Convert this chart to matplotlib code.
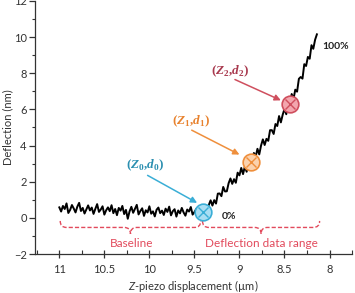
import numpy as np
import matplotlib
matplotlib.use('Agg')
import matplotlib.pyplot as plt
from matplotlib.path import Path
from matplotlib.patches import PathPatch
from matplotlib.ticker import MultipleLocator

plt.rcParams['font.family'] = ['Lato', 'DejaVu Sans']
plt.rcParams['mathtext.fontset'] = 'custom'
plt.rcParams['mathtext.rm'] = 'Lato'
plt.rcParams['mathtext.it'] = 'Lato:italic'
plt.rcParams['mathtext.bf'] = 'Liberation Serif:bold'
plt.rcParams['mathtext.bfit'] = 'Liberation Serif:italic:bold'

# Z-piezo sampling grid (um), 0.02 um steps from 11.0 down to 8.14
z = np.linspace(11.0, 8.14, 144)

# deflection (nm): baseline part then contact part
baseline = [0.58, 0.35, 0.66, 0.49, 0.80, 0.27, 0.44, 0.71, 0.52, 0.30,
            0.62, 0.83, 0.38, 0.55, 0.24, 0.47, 0.69, 0.41, 0.57, 0.22,
            0.50, 0.76, 0.33, 0.46, 0.64, 0.18, 0.42, 0.58, 0.37, 0.70,
            0.26, 0.49, 0.15, 0.55, 0.40, 0.66, 0.21, 0.44, -0.05, 0.36,
            0.61, 0.28, 0.50, 0.72, 0.19, 0.38, 0.53, 0.11, 0.42, 0.30,
            0.64, 0.23, 0.36, 0.08, 0.45, 0.57, 0.26, 0.40, 0.16, 0.51,
            0.33, 0.62, 0.14, 0.37, 0.48, 0.07, 0.41, 0.25, 0.55, 0.30,
            0.12, 0.46, 0.35, 0.60, 0.18, 0.32, 0.49, 0.10, 0.38, 0.24,
            0.30]
contact = [0.55, 0.31, 0.72, 0.97, 0.68, 0.98, 0.79, 1.34, 1.35, 1.20,
           1.71, 1.46, 1.47, 1.92, 2.18, 1.88, 2.14, 1.94, 2.50, 2.35,
           2.76, 2.42, 2.84, 2.55, 3.11, 3.12, 3.00, 3.59, 3.38, 3.82,
           3.51, 4.00, 4.34, 4.03, 4.37, 4.26, 4.85, 4.85, 4.64, 5.19,
           5.08, 5.63, 5.28, 5.70, 6.02, 5.73, 6.30, 6.28, 6.85, 6.57,
           7.09, 6.98, 7.69, 7.79, 7.70, 8.50, 8.40, 8.90, 8.80, 9.55,
           9.35, 9.85, 10.15]
defl = np.array(baseline + contact)

# marked points (Z, d)
pt_z = [9.40, 8.875, 8.443]
pt_d = [0.33, 3.10, 6.28]
pt_names = [r'$\mathbf{(}\mathbfit{Z}_{\mathbf{0}}\mathbf{,}\mathbfit{d}_{\mathbf{0}}\mathbf{)}$',
            r'$\mathbf{(}\mathbfit{Z}_{\mathbf{1}}\mathbf{,}\mathbfit{d}_{\mathbf{1}}\mathbf{)}$',
            r'$\mathbf{(}\mathbfit{Z}_{\mathbf{2}}\mathbf{,}\mathbfit{d}_{\mathbf{2}}\mathbf{)}$']
edge_cols = ['#3aaed6', '#ef8f3c', '#cf4f5e']
face_cols = ['#a9def3', '#fbd2ae', '#f3a6ae']
text_cols = ['#2b8fb0', '#e8822e', '#a8394e']
label_xy = [(10.05, 2.89), (9.53, 5.33), (9.107, 8.11)]
arrow_from = [(10.02, 2.35), (9.53, 4.85), (9.05, 7.65)]
arrow_to = [(9.47, 0.83), (9.00, 3.50), (8.54, 6.50)]

fig = plt.figure(figsize=(3.55, 2.93), dpi=100)
ax = fig.add_axes([0.0986, 0.133, 0.893, 0.864])

ax.plot(z, defl, color='black', lw=1.4, zorder=3)

for i in range(3):
    ax.plot(pt_z[i], pt_d[i], 'o', ms=12, mfc=face_cols[i], mec=edge_cols[i],
            mew=1.2, zorder=4)
    ax.plot(pt_z[i], pt_d[i], 'x', ms=7.5, mec=edge_cols[i], mew=1.0, zorder=5)
    ax.text(label_xy[i][0], label_xy[i][1], pt_names[i], color=text_cols[i],
            fontsize=9.5, ha='center', va='center')
    ax.annotate('', xy=arrow_to[i], xytext=arrow_from[i],
                arrowprops=dict(arrowstyle='-|>', color=edge_cols[i], lw=1.1,
                                mutation_scale=9, shrinkA=0, shrinkB=0))

ax.text(8.078, 9.5, '100%', fontsize=7.5, fontweight='bold', color='#222222',
        ha='left', va='center')
ax.text(9.196, 0.05, '0%', fontsize=7.5, fontweight='bold', color='#222222',
        ha='left', va='center')


def brace(x0, x1, yt, ym, yb, w, col):
    xm = (x0 + x1) / 2
    d = np.sign(x1 - x0)
    verts = [(x0, yt), (x0, ym), (x0 + d * w, ym),
             (xm - d * w, ym), (xm, ym), (xm, yb),
             (xm, ym), (xm + d * w, ym),
             (x1 - d * w, ym), (x1, ym), (x1, yt)]
    codes = [Path.MOVETO, Path.CURVE3, Path.CURVE3,
             Path.LINETO, Path.CURVE3, Path.CURVE3,
             Path.CURVE3, Path.CURVE3,
             Path.LINETO, Path.CURVE3, Path.CURVE3]
    ax.add_patch(PathPatch(Path(verts, codes), fill=False, ec=col, lw=1.0,
                           ls=(0, (3, 1.5)), zorder=2))


red = '#e24a5c'
brace(10.99, 9.43, -0.17, -0.53, -0.89, 0.07, red)
brace(9.41, 8.11, -0.17, -0.53, -0.89, 0.07, red)
ax.text(10.20, -1.42, 'Baseline', color=red, fontsize=8.5, ha='center', va='center')
ax.text(8.76, -1.42, 'Deflection data range', color=red, fontsize=8.5,
        ha='center', va='center')

ax.set_xlim(11.27, 7.75)
ax.set_ylim(-2, 12)
ax.xaxis.set_major_locator(MultipleLocator(0.5))
ax.xaxis.set_minor_locator(MultipleLocator(0.25))
ax.yaxis.set_major_locator(MultipleLocator(2))
ax.yaxis.set_minor_locator(MultipleLocator(1))
ax.set_xticks([11, 10.5, 10, 9.5, 9, 8.5, 8])
ax.set_xticklabels(['11', '10.5', '10', '9.5', '9', '8.5', '8'])

for s in ['top', 'right']:
    ax.spines[s].set_visible(False)
for s in ['left', 'bottom']:
    ax.spines[s].set_color('#333333')
    ax.spines[s].set_linewidth(0.9)

ax.tick_params(axis='x', which='major', direction='inout', length=6, width=0.9,
               labelsize=8, colors='#333333', pad=4)
ax.tick_params(axis='x', which='minor', direction='in', length=3, width=0.8,
               colors='#333333')
ax.tick_params(axis='y', which='major', direction='out', length=4, width=0.9,
               labelsize=8, colors='#333333', pad=2)
ax.tick_params(axis='y', which='minor', direction='out', length=2.5, width=0.8,
               colors='#333333')

ax.set_xlabel(r'$\mathit{Z}$-piezo displacement (µm)', fontsize=8, color='#333333',
              labelpad=2)
fig.text(0.022, 0.567, 'Deflection (nm)', rotation=90, fontsize=8, color='#333333',
         ha='center', va='center')

fig.savefig('out.png', dpi=100)
